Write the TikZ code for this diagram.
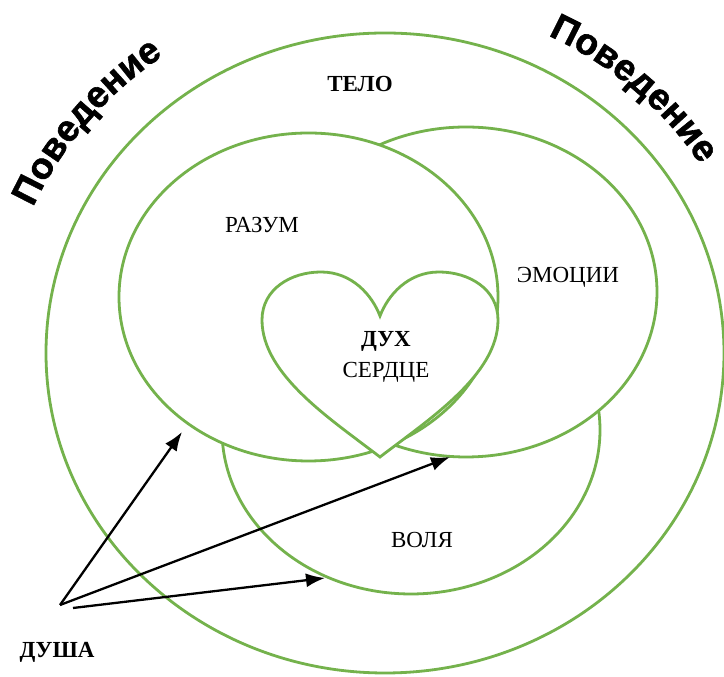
\documentclass[tikz,border=0pt]{standalone}
\usepackage{fontspec}
\setmainfont{Liberation Serif}
\setsansfont{Liberation Sans}
\newfontfamily\behfam[FakeBold=1.6]{Liberation Sans Bold}
\usetikzlibrary{calc}
\usetikzlibrary{arrows.meta}
\usetikzlibrary{decorations.text}

\definecolor{leaf}{RGB}{116,178,76}
\newcommand{\behfont}{\behfam\fontsize{37}{37}\selectfont}

\begin{document}
\begin{tikzpicture}[x=1pt,y=1pt,
		ring/.style={draw=leaf, line width=2.8pt, fill=white},
		lbl/.style={font=\fontsize{23}{23}\selectfont, anchor=base, inner sep=0pt},
		lblb/.style={lbl, font=\bfseries\fontsize{23}{23}\selectfont},
		soul/.style={line width=2.3pt, -{Latex[length=19pt,width=14pt]}}]
				\useasboundingbox (0,0) rectangle (724,677);
				\coordinate (body) at (385,324);
				\coordinate (will) at (411,247);
				\coordinate (emo) at (466,385);
				\coordinate (mind) at (308.5,380);
				
				\draw[ring] (body) ellipse [x radius=339pt, y radius=320pt];
				\draw[ring] (will) ellipse [x radius=189pt, y radius=164pt];
				\draw[ring] (emo) ellipse [x radius=191pt, y radius=165pt];
				\draw[ring] (mind) ellipse [x radius=189.5pt, y radius=164pt];
				\draw[ring] (380,220) .. controls (332,257) and (262,302) .. (262,357)
					.. controls (262,388) and (291,405) .. (321,405)
					.. controls (352,405) and (372,382) .. (380,361)
					.. controls (388,382) and (408,405) .. (439,405)
					.. controls (469,405) and (498,388) .. (498,357)
					.. controls (498,302) and (428,257) .. (380,220) -- cycle;
				
				\node[lblb] (telo) at (360,585) {ТЕЛО};
				\node[lbl] (razum) at (262,444) {РАЗУМ};
				\node[lbl] (emotions) at (568,394) {ЭМОЦИИ};
				\node[lblb] (dukh) at (386,330) {ДУХ};
				\node[lbl] (heart) at (386,299) {СЕРДЦЕ};
				\node[lbl] (volya) at (422,129) {ВОЛЯ};
				\node[lblb] (dusha) at (57,19) {ДУША};
				
				\path[decorate, decoration={text along path, text align=center, text={|\behfont|Поведение}}]
					($(body)+(166:384pt and 364pt)$) arc [start angle=166, end angle=116, x radius=384pt, y radius=364pt];
				\path[decorate, decoration={text along path, text align=center, text={|\behfont|Поведение}}]
					($(body)+(73:373pt and 353pt)$) arc [start angle=73, end angle=23, x radius=373pt, y radius=353pt];
				
				\coordinate (soulA) at (60,72);
				\coordinate (soulB) at (73,69);
				\coordinate (mindpt) at (182,245);
				\coordinate (emopt) at (450,220);
				\coordinate (willpt) at (325,99);
				\draw[soul] (soulA) -- (mindpt);
				\draw[soul] (soulA) -- (emopt);
				\draw[soul] (soulB) -- (willpt);
			\end{tikzpicture}
\end{document}
